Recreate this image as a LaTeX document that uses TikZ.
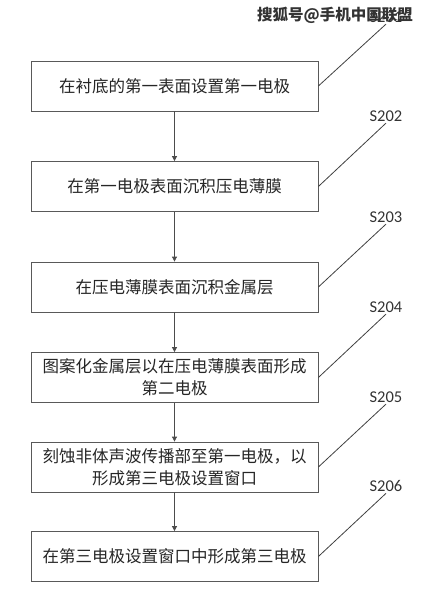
\documentclass[tikz,border=0pt]{standalone}
\usepackage{fontspec}
\setmainfont{Noto Sans CJK SC}
\newfontfamily\labelfont{Carlito}
\usetikzlibrary{arrows.meta}

\begin{document}
\begin{tikzpicture}[x=1pt, y=-1pt,
    stepbox/.style={rectangle, draw=black!65, line width=0.8pt, fill=white,
        minimum width=287pt, minimum height=50pt, inner sep=2pt,
        align=center, font=\fontsize{16.5}{22}\selectfont, text=black!85},
    steplabel/.style={inner sep=1.5pt, font=\labelfont\fontsize{16.5}{18}\selectfont, text=black!80},
    flow/.style={line width=0.8pt, draw=black!70, -{Triangle[length=5pt,width=5pt]}},
    leader/.style={line width=0.8pt, draw=black!75, -}
]
    \useasboundingbox (0,0) rectangle (428,589);
    \node[stepbox] (s1) at (174.5,86) {在衬底的第一表面设置第一电极};
    \node[stepbox] (s2) at (174.5,186.5) {在第一电极表面沉积压电薄膜};
    \node[stepbox] (s3) at (174.5,287) {在压电薄膜表面沉积金属层};
    \node[stepbox] (s4) at (174.5,377.5) {图案化金属层以在压电薄膜表面形成\\第二电极};
    \node[stepbox] (s5) at (174.5,467) {刻蚀非体声波传播部至第一电极，以\\形成第三电极设置窗口};
    \node[stepbox] (s6) at (174.5,556.5) {在第三电极设置窗口中形成第三电极};
    \node[steplabel] (l1) at (386,17) {S201};
    \node[steplabel] (l2) at (386,116) {S202};
    \node[steplabel] (l3) at (386,217) {S203};
    \node[steplabel] (l4) at (386,307) {S204};
    \node[steplabel] (l5) at (386,397) {S205};
    \node[steplabel] (l6) at (386,486) {S206};
    % watermark over the first label
    \node[inner sep=0pt, font=\bfseries\fontsize{15.5}{16}\selectfont, text=black!80] (mark) at (335,15) {搜狐号@手机中国联盟};
    \draw[flow] (s1) -- (s2);
    \draw[flow] (s2) -- (s3);
    \draw[flow] (s3) -- (s4);
    \draw[flow] (s4) -- (s5);
    \draw[flow] (s5) -- (s6);
    \draw[leader] (s1.east) -- (l1.south);
    \draw[leader] (s2.east) -- (l2.south);
    \draw[leader] (s3.east) -- (l3.south);
    \draw[leader] (s4.east) -- (l4.south);
    \draw[leader] (s5.east) -- (l5.south);
    \draw[leader] (s6.east) -- (l6.south);
\end{tikzpicture}
\end{document}
